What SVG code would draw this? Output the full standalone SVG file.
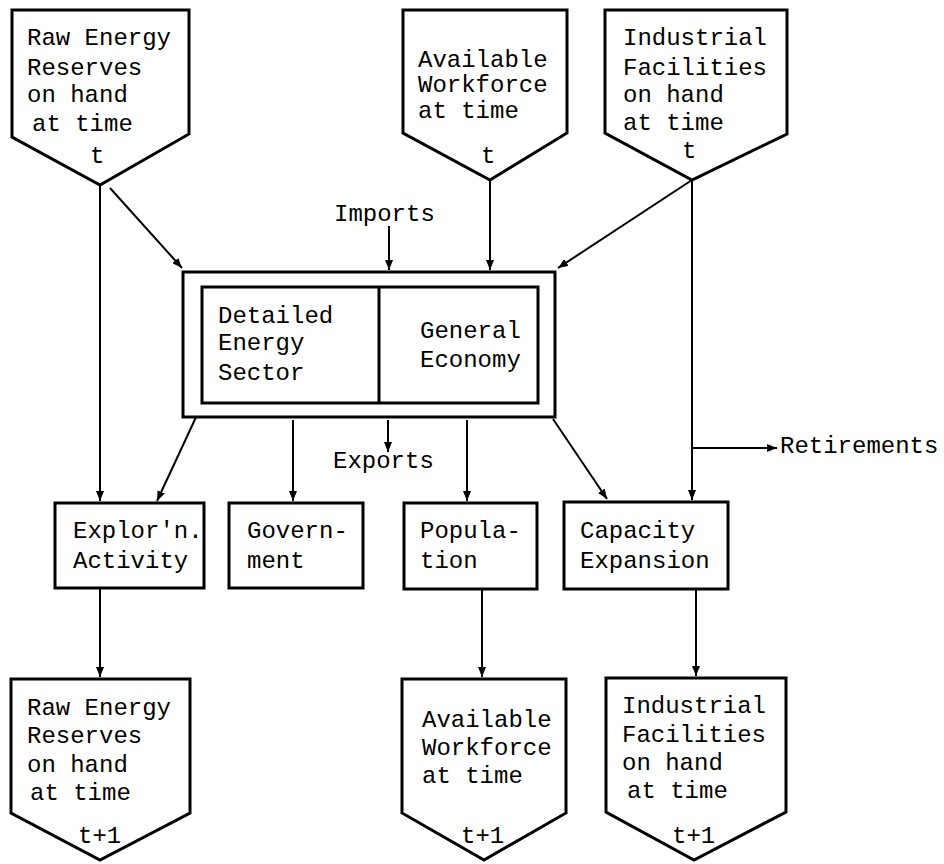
<svg xmlns="http://www.w3.org/2000/svg" width="944" height="864" viewBox="0 0 944 864">
<style>
.s{fill:#fff;stroke:#000;stroke-width:3;stroke-linejoin:miter}
.c{fill:none;stroke:#000;stroke-width:2}
text{font-family:"Liberation Mono","Courier New",monospace;font-size:24px;fill:#000}
</style>
<defs>
<marker id="a" viewBox="0 0 10 8" refX="10" refY="4" markerWidth="10" markerHeight="8" markerUnits="userSpaceOnUse" orient="auto-start-reverse">
<path d="M0,0 L10,4 L0,8 Z" fill="#000"/>
</marker>
</defs>
<rect width="944" height="864" fill="#fff"/>
<g id="connectors">
<line class="c" x1="100" y1="185" x2="100" y2="501" marker-end="url(#a)"/>
<line class="c" x1="110" y1="188" x2="182" y2="268" marker-end="url(#a)"/>
<line class="c" x1="389" y1="226" x2="389" y2="270" marker-end="url(#a)"/>
<line class="c" x1="490" y1="180" x2="490" y2="270" marker-end="url(#a)"/>
<line class="c" x1="692" y1="180" x2="558" y2="268" marker-end="url(#a)"/>
<line class="c" x1="692" y1="180" x2="692" y2="500" marker-end="url(#a)"/>
<line class="c" x1="692" y1="448" x2="777" y2="448" marker-end="url(#a)"/>
<line class="c" x1="293" y1="420" x2="293" y2="501" marker-end="url(#a)"/>
<line class="c" x1="388" y1="420" x2="388" y2="452" marker-end="url(#a)"/>
<line class="c" x1="467" y1="420" x2="467" y2="501" marker-end="url(#a)"/>
<line class="c" x1="553" y1="419" x2="607" y2="499" marker-end="url(#a)"/>
<line class="c" x1="204" y1="400" x2="157" y2="501" marker-start="url(#a)" marker-end="url(#a)"/>
<line class="c" x1="100" y1="589" x2="100" y2="677" marker-end="url(#a)"/>
<line class="c" x1="482" y1="589" x2="482" y2="677" marker-end="url(#a)"/>
<line class="c" x1="696" y1="589" x2="696" y2="676" marker-end="url(#a)"/>
</g>
<g id="raw-t">
<path class="s" d="M12,10 H189 V134 L100,185 L12,137 Z"/>
<text x="27" y="45">Raw Energy</text>
<text x="27" y="75">Reserves</text>
<text x="27" y="102">on hand</text>
<text x="32" y="131">at time</text>
<text x="90" y="163">t</text>
</g>
<g id="work-t">
<path class="s" d="M403,10 H567 V133 L490,180 L403,133 Z"/>
<text x="418" y="67">Available</text>
<text x="418" y="92">Workforce</text>
<text x="418" y="118">at time</text>
<text x="481" y="163">t</text>
</g>
<g id="ind-t">
<path class="s" d="M605,10 H787 V134 L692,180 L605,133 Z"/>
<text x="623" y="45">Industrial</text>
<text x="623" y="75">Facilities</text>
<text x="623" y="102">on hand</text>
<text x="623" y="130">at time</text>
<text x="682" y="158">t</text>
</g>
<g id="imports"><text x="334" y="221">Imports</text></g>
<g id="model">
<rect class="s" x="183" y="272" width="372" height="145"/>
<rect class="s" x="202" y="287" width="336" height="116"/>
<line class="s" x1="379" y1="287" x2="379" y2="403"/>
<text x="218" y="323">Detailed</text>
<text x="218" y="350">Energy</text>
<text x="218" y="380">Sector</text>
<text x="420" y="338">General</text>
<text x="420" y="367">Economy</text>
</g>
<g id="exports"><text x="333" y="468">Exports</text></g>
<g id="retirements"><text x="780" y="453">Retirements</text></g>
<g id="exploration">
<rect class="s" x="55" y="503" width="149" height="85"/>
<text x="73" y="538">Explor'n.</text>
<text x="73" y="568">Activity</text>
</g>
<g id="government">
<rect class="s" x="229" y="503" width="134" height="85"/>
<text x="247" y="538">Govern-</text>
<text x="247" y="568">ment</text>
</g>
<g id="population">
<rect class="s" x="404" y="503" width="133" height="86"/>
<text x="420" y="538">Popula-</text>
<text x="420" y="568">tion</text>
</g>
<g id="capacity">
<rect class="s" x="564" y="502" width="164" height="87"/>
<text x="580" y="538">Capacity</text>
<text x="580" y="568">Expansion</text>
</g>
<g id="raw-t1">
<path class="s" d="M11,679 H190 V813 L100,860 L11,813 Z"/>
<text x="27" y="715">Raw Energy</text>
<text x="27" y="743">Reserves</text>
<text x="27" y="772">on hand</text>
<text x="30" y="800">at time</text>
<text x="78" y="843">t+1</text>
</g>
<g id="work-t1">
<path class="s" d="M402,679 H566 V813 L484,860 L402,813 Z"/>
<text x="422" y="727">Available</text>
<text x="422" y="755">Workforce</text>
<text x="422" y="783">at time</text>
<text x="461" y="843">t+1</text>
</g>
<g id="ind-t1">
<path class="s" d="M606,678 H786 V812 L694,860 L606,812 Z"/>
<text x="622" y="713">Industrial</text>
<text x="622" y="742">Facilities</text>
<text x="622" y="770">on hand</text>
<text x="627" y="798">at time</text>
<text x="672" y="843">t+1</text>
</g>
</svg>
